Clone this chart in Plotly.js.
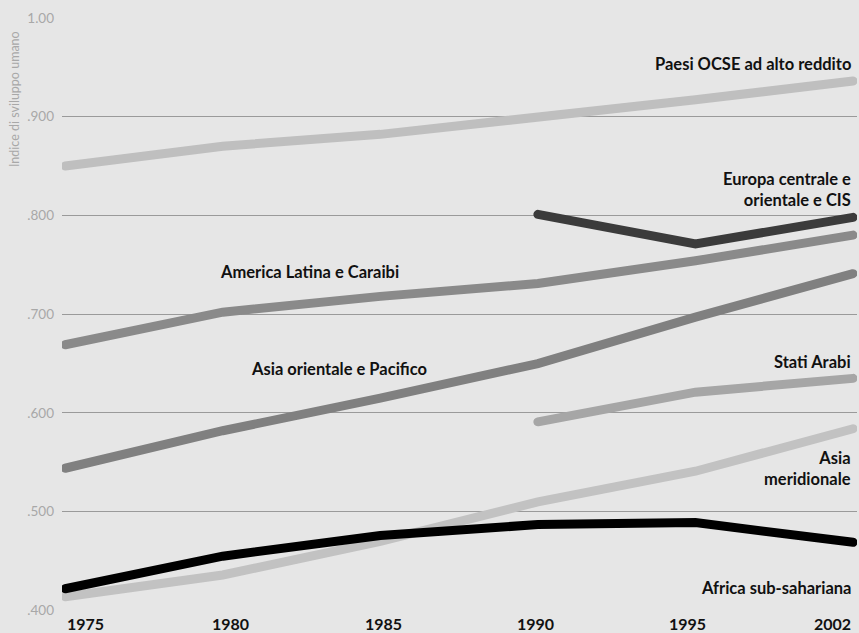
<!DOCTYPE html>
<html>
<head>
<meta charset="utf-8">
<script src="https://cdn.plot.ly/plotly-3.0.1.min.js"></script>
<style>
  html, body { margin: 0; padding: 0; background: #e6e6e6; }
  #chart { width: 859px; height: 633px; }
  .js-line { stroke-linecap: round !important; stroke-linejoin: miter; }
</style>
</head>
<body>
<div id="chart"></div>
<script>
// Categories (years) and tick labels
const years = ['1975', '1980', '1985', '1990', '1995', '2002'];
const yTickVals = [0.4, 0.5, 0.6, 0.7, 0.8, 0.9, 1.0];
const yTickText = ['.400', '.500', '.600', '.700', '.800', '.900', '1.00'];
const yTitle = 'Indice di sviluppo umano';

// Series values (HDI), null = not available
const ocse   = [0.850, 0.870, 0.882, 0.899, 0.917, 0.936];
const cis    = [null,  null,  null,  0.801, 0.771, 0.798];
const latam  = [0.669, 0.702, 0.718, 0.731, 0.754, 0.780];
const eap    = [0.544, 0.582, 0.615, 0.650, 0.697, 0.741];
const arab   = [null,  null,  null,  0.591, 0.621, 0.635];
const sasia  = [0.414, 0.436, 0.470, 0.510, 0.541, 0.584];
const africa = [0.422, 0.455, 0.476, 0.487, 0.489, 0.469];

// Series names (label text)
const nOcse = 'Paesi OCSE ad alto reddito';
const nCis = 'Europa centrale e<br>orientale e CIS';
const nLatam = 'America Latina e Caraibi';
const nEap = 'Asia orientale e Pacifico';
const nArab = 'Stati Arabi';
const nSasia = 'Asia<br>meridionale';
const nAfrica = 'Africa sub-sahariana';

const xi = years.map((_, i) => i);
const FONT = 'Lato, "Open Sans", sans-serif';

function tr(y, color, width) {
  return { x: xi, y: y, type: 'scatter', mode: 'lines', connectgaps: false,
           line: { color: color, width: width }, hoverinfo: 'skip', showlegend: false };
}

const data = [
  tr(ocse, '#bfbfbf', 9),
  tr(latam, '#8a8a8a', 9),
  tr(eap, '#808080', 9),
  tr(arab, '#a6a6a6', 9),
  tr(sasia, '#c2c2c2', 9),
  tr(africa, '#000000', 9),
  tr(cis, '#3b3b3b', 9)
];

const labFont = { family: FONT, size: 16.5, color: '#111', weight: 'bold' };
function lab(text, x, y, xanchor) {
  return { text: text, x: x, y: y, xref: 'x', yref: 'y', xanchor: xanchor, yanchor: 'middle',
           showarrow: false, align: xanchor === 'right' ? 'right' : 'center', font: labFont };
}

const last = years.length - 1;
const annotations = [
  lab(nOcse, last, 0.9535, 'right'),
  lab(nCis, last, 0.826, 'right'),
  lab(nLatam, 1.548, 0.7424, 'center'),
  lab(nEap, 1.739, 0.6444, 'center'),
  lab(nArab, last, 0.6515, 'right'),
  lab(nSasia, last, 0.544, 'right'),
  lab(nAfrica, last, 0.4232, 'right'),
  { text: yTitle, xref: 'paper', yref: 'paper', x: -0.059, y: 0.862, textangle: -90,
    showarrow: false, xanchor: 'center', yanchor: 'middle',
    font: { family: FONT, size: 12.5, color: '#a8a8a8' } }
];

// Year labels along the bottom
years.forEach((yr, i) => {
  annotations.push({
    text: yr, x: i, y: 0, xref: 'x', yref: 'paper', yanchor: 'top', yshift: -1,
    xanchor: i === 0 ? 'left' : (i === last ? 'right' : 'center'),
    xshift: (i === 0 || i === last) ? 0 : (2.5 - i) * 5.5,
    showarrow: false, font: { family: FONT, size: 16, color: '#111', weight: 'bold' }
  });
});

const layout = {
  width: 859, height: 633,
  margin: { l: 62, r: 2, t: 17, b: 22, pad: 0 },
  paper_bgcolor: '#e6e6e6', plot_bgcolor: '#e6e6e6',
  showlegend: false,
  xaxis: { range: [-0.02, 5.025], showgrid: false, zeroline: false, showline: false,
           showticklabels: false, ticks: '', fixedrange: true },
  yaxis: { range: [0.3995, 1.0008], tickvals: yTickVals, ticktext: yTickText,
           showgrid: true, gridcolor: '#9a9a9a', gridwidth: 1, zeroline: false, showline: false,
           ticks: '', ticklabelstandoff: 7,
           tickfont: { family: FONT, size: 13.5, color: '#a8a8a8' }, fixedrange: true },
  annotations: annotations
};

Plotly.newPlot('chart', data, layout, { displayModeBar: false, staticPlot: true });
</script>
</body>
</html>
